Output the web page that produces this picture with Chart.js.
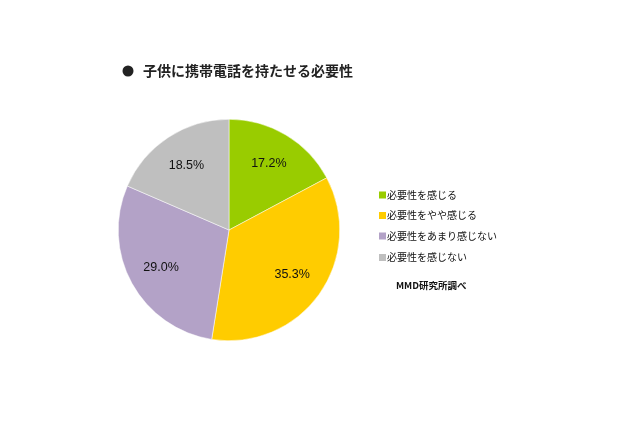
<!DOCTYPE html>
<html><head><meta charset="utf-8">
<script src="https://cdn.jsdelivr.net/npm/chart.js@4"></script>
<style>html,body{margin:0;padding:0;background:#fff;}canvas{display:block;}</style>
</head><body>
<canvas id="c" width="640" height="426"></canvas>
<script>
const categories = ["必要性を感じる","必要性をやや感じる","必要性をあまり感じない","必要性を感じない"];
const values = [17.2, 35.3, 29.0, 18.5];
const colors = ["#99CC00","#FFCC00","#B3A2C7","#BFBFBF"];
const titleText = "子供に携帯電話を持たせる必要性";
const sourceText = "MMD研究所調べ";

const jp = '"Noto Sans CJK JP", sans-serif';

const extras = {
  id: 'extras',
  afterDraw(chart) {
    const ctx = chart.ctx;
    ctx.save();
    // title
    ctx.fillStyle = '#222';
    ctx.beginPath(); ctx.arc(128, 71, 5.5, 0, Math.PI*2); ctx.fill();
    ctx.font = 'bold 14px ' + jp;
    ctx.textBaseline = 'middle';
    ctx.textAlign = 'left';
    ctx.fillText(titleText, 143, 71);
    // value labels
    const meta = chart.getDatasetMeta(0);
    ctx.font = '12.5px "Liberation Sans", Arial, sans-serif';
    ctx.fillStyle = '#111';
    ctx.textAlign = 'center';
    meta.data.forEach((arc, i) => {
      const p = arc.getProps(['x','y','startAngle','endAngle','outerRadius']);
      const a = (p.startAngle + p.endAngle) / 2;
      const r = p.outerRadius * 0.7;
      ctx.fillText(values[i].toFixed(1) + '%', p.x + Math.cos(a)*r, p.y + Math.sin(a)*r);
    });
    // legend
    ctx.textAlign = 'left';
    ctx.font = '10px ' + jp;
    const ys = [195, 215.5, 236, 257.5];
    categories.forEach((c, i) => {
      ctx.fillStyle = colors[i];
      ctx.fillRect(379, ys[i]-3.5, 7, 7);
      ctx.fillStyle = '#111';
      ctx.fillText(c, 387, ys[i]);
    });
    ctx.font = 'bold 9.5px ' + jp;
    ctx.fillText(sourceText, 396, 285.5);
    ctx.restore();
  }
};

new Chart(document.getElementById('c'), {
  type: 'pie',
  data: { labels: categories, datasets: [{ data: values, backgroundColor: colors, borderWidth: 0.5, borderColor: '#ffffff' }] },
  options: {
    responsive: false,
    animation: false,
    layout: { padding: { left: 118, right: 300, top: 119, bottom: 85 } },
    plugins: { legend: { display: false }, tooltip: { enabled: false }, title: { display: false } }
  },
  plugins: [extras]
});
</script>
</body></html>
